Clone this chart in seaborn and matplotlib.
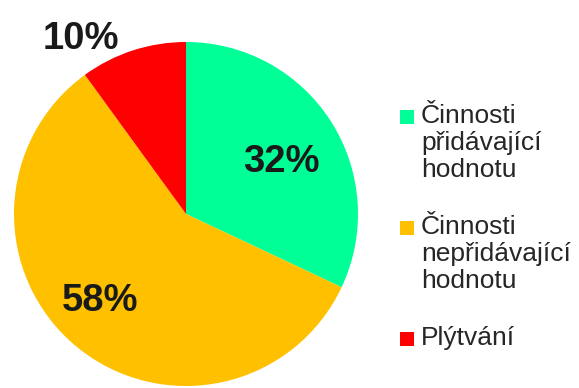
import numpy as np
import seaborn as sns
import matplotlib.pyplot as plt

# data
categories = ["Činnosti\npřidávající\nhodnotu", "Činnosti\nnepřidávající\nhodnotu", "Plýtvání"]
shares = [32, 58, 10]
colors = ["#00FF96", "#FFC000", "#FF0000"]
# where each percent label sits: part of the radius, turn from the wedge middle (deg)
label_dist = [0.63, 0.71, 1.19]
label_turn = [-4, -5, 13]

sns.set_theme(style="white")
plt.rcParams["font.family"] = ["Liberation Sans", "DejaVu Sans"]

fig = plt.figure(figsize=(5.79, 3.88), dpi=100)
ax = fig.add_axes([0, 0, 1, 1])

R = 172
wedges, _ = ax.pie(shares, colors=colors, startangle=90, counterclock=False,
                   center=(186, 388 - 214), radius=R, frame=True,
                   wedgeprops=dict(linewidth=0))
ax.set_xlim(0, 579)
ax.set_ylim(0, 388)
ax.axis("off")

for w, val, d, t in zip(wedges, shares, label_dist, label_turn):
    mid = np.deg2rad((w.theta1 + w.theta2) / 2 + t)
    x = w.center[0] + d * R * np.cos(mid)
    y = w.center[1] + d * R * np.sin(mid)
    ax.text(x, y, f"{val}%", ha="center", va="center", fontsize=27.5,
            fontweight="bold", color="#1a1a1a")

# legend drawn by hand so the square sits on the first line of each label
line_h = 31
entry_gap = 18
y = 388 - 117
for label, c in zip(categories, colors):
    ax.scatter([407], [y], marker="s", s=95, color=c, linewidths=0)
    ax.text(421, y + 13, label, ha="left", va="top", fontsize=19,
            color="#262626", linespacing=1.17)
    y -= line_h * (label.count("\n") + 1) + entry_gap

fig.savefig("out.png", dpi=100)
